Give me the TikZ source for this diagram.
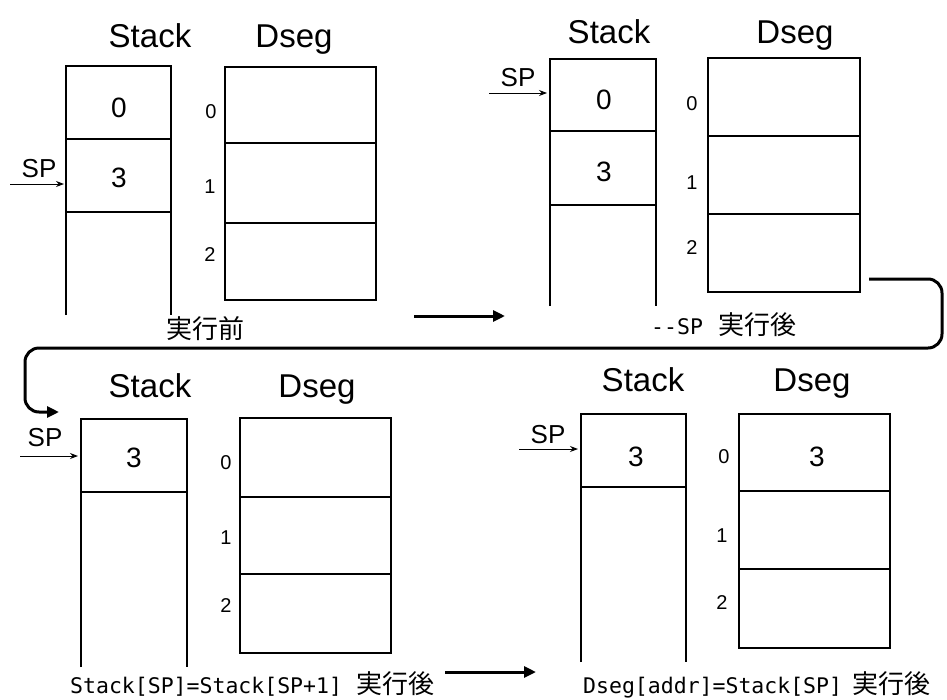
\documentclass[tikz,border=0pt]{standalone}
\usepackage{fontspec}
\setmainfont{Liberation Sans}
\newfontfamily\jpfont{Noto Sans CJK JP}
\newfontfamily\halfwidth{DejaVu Sans Mono}
\usetikzlibrary{arrows.meta}

% caption pieces: half-width Latin and Japanese
\newcommand\capLatin[1]{{\halfwidth\fontsize{21.5}{21.5}\selectfont #1}}
\newcommand\capJp[1]{{\jpfont\fontsize{26}{26}\selectfont #1}}

\begin{document}
\begin{tikzpicture}[x=1pt,y=-1pt,
  box/.style={line width=1.6pt},
  title/.style={anchor=base,inner sep=0,font=\fontsize{33}{33}\selectfont},
  val/.style={inner sep=0,font=\fontsize{28}{28}\selectfont},
  idx/.style={inner sep=0,font=\fontsize{20}{20}\selectfont},
  splabel/.style={inner sep=0,font=\fontsize{26}{26}\selectfont},
  sparrow/.style={line width=1pt,-{Stealth[length=8pt,width=6pt]}},
  flow/.style={line width=3pt,-{Triangle[length=12pt,width=11pt]}},
  caption/.style={anchor=base west,inner sep=0},
]
\useasboundingbox (0,0) rectangle (947,699);

% ---------- state 1: before ----------
\node[title] (t1s) at (150,47) {Stack};
\node[title] (t1d) at (294,47) {Dseg};
\draw[box] (66,315) -- (66,66) -- (171,66) -- (171,315);
\draw[box] (66,139) -- (171,139) (66,212) -- (171,212);
\draw[box] (225,67) rectangle (376,300);
\draw[box] (225,143) -- (376,143) (225,223) -- (376,223);
\node[val] (v1a) at (119,108) {0};
\node[val] (v1b) at (119,178) {3};
\node[idx] (i1a) at (211,112) {0};
\node[idx] (i1b) at (210,187) {1};
\node[idx] (i1c) at (210,255) {2};
\node[splabel] (sp1) at (39,169) {SP};
\coordinate (sp1s) at (10,184);
\coordinate (sp1e) at (64,184);
\draw[sparrow] (sp1s) -- (sp1e);
\node[anchor=base,inner sep=0] (c1) at (205,338) {\capJp{実行前}};

% ---------- state 2: after --SP ----------
\node[title] (t2s) at (609,43) {Stack};
\node[title] (t2d) at (795,43) {Dseg};
\draw[box] (550,306) -- (550,59) -- (656,59) -- (656,306);
\draw[box] (550,131) -- (656,131) (550,205) -- (656,205);
\draw[box] (708,58) rectangle (860,292);
\draw[box] (708,136) -- (860,136) (708,214) -- (860,214);
\node[val] (v2a) at (604,100) {0};
\node[val] (v2b) at (604,172) {3};
\node[idx] (i2a) at (692,104) {0};
\node[idx] (i2b) at (692,183) {1};
\node[idx] (i2c) at (692,248) {2};
\node[splabel] (sp2) at (518,78) {SP};
\coordinate (sp2s) at (489,93);
\coordinate (sp2e) at (547,93);
\draw[sparrow] (sp2s) -- (sp2e);
\node[caption] (c2) at (651,334) {\capLatin{--SP}\hspace{16pt}\capJp{実行後}};

% ---------- state 3: after Stack[SP]=Stack[SP+1] ----------
\node[title] (t3s) at (150,397) {Stack};
\node[title] (t3d) at (317,397) {Dseg};
\draw[box] (81,667) -- (81,419) -- (187,419) -- (187,667);
\draw[box] (81,492) -- (187,492);
\draw[box] (240,418) rectangle (391,653);
\draw[box] (240,497) -- (391,497) (240,574) -- (391,574);
\node[val] (v3a) at (134,458) {3};
\node[idx] (i3a) at (226,463) {0};
\node[idx] (i3b) at (226,538) {1};
\node[idx] (i3c) at (226,606) {2};
\node[splabel] (sp3) at (45,438) {SP};
\coordinate (sp3s) at (20,456);
\coordinate (sp3e) at (78,456);
\draw[sparrow] (sp3s) -- (sp3e);
\node[caption] (c3) at (70,693) {\capLatin{Stack[SP]=Stack[SP+1]}\hspace{14pt}\capJp{実行後}};

% ---------- state 4: after Dseg[addr]=Stack[SP] ----------
\node[title] (t4s) at (643,391) {Stack};
\node[title] (t4d) at (812,391) {Dseg};
\draw[box] (581,662) -- (581,414) -- (686,414) -- (686,662);
\draw[box] (581,487) -- (686,487);
\draw[box] (739,414) rectangle (890,648);
\draw[box] (739,491) -- (890,491) (739,569) -- (890,569);
\node[val] (v4a) at (636,457) {3};
\node[val] (v4d) at (817,457) {3};
\node[idx] (i4a) at (724,457) {0};
\node[idx] (i4b) at (722,536) {1};
\node[idx] (i4c) at (722,603) {2};
\node[splabel] (sp4) at (548,435) {SP};
\coordinate (sp4s) at (519,449);
\coordinate (sp4e) at (578,449);
\draw[sparrow] (sp4s) -- (sp4e);
\node[caption] (c4) at (583,693) {\capLatin{Dseg[addr]=Stack[SP]}\hspace{10pt}\capJp{実行後}};

% ---------- transitions ----------
\coordinate (f1s) at (414,316);
\coordinate (f1e) at (505,316);
\draw[flow] (f1s) -- (f1e);

\coordinate (f2s) at (869,279);
\coordinate (f2e) at (59,412);
\draw[flow,rounded corners=14pt] (f2s) -- (942,279) -- (942,348) -- (25,348) -- (25,412) -- (f2e);

\coordinate (f3s) at (445,672);
\coordinate (f3e) at (536,672);
\draw[flow] (f3s) -- (f3e);
\end{tikzpicture}
\end{document}
